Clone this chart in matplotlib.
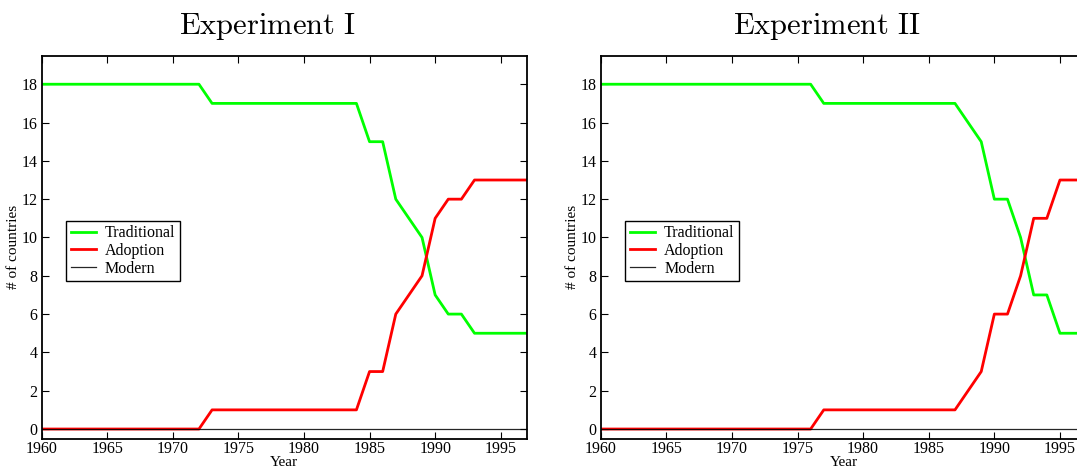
import matplotlib
matplotlib.use("Agg")
import matplotlib.pyplot as plt

years = list(range(1960, 1998))

# Experiment I
trad_1 = [18]*13 + [17]*12 + [15, 15, 12, 11, 10, 7, 6, 6] + [5]*5
adop_1 = [0]*13 + [1]*12 + [3, 3, 6, 7, 8, 11, 12, 12] + [13]*5
mod_1 = [0]*38

# Experiment II
trad_2 = [18]*17 + [17]*11 + [16, 15, 12, 12, 10, 7, 7] + [5]*3
adop_2 = [0]*17 + [1]*11 + [2, 3, 6, 6, 8, 11, 11] + [13]*3
mod_2 = [0]*38

titles = ["Experiment I", "Experiment II"]
series_names = ["Traditional", "Adoption", "Modern"]
xticks = list(range(1960, 2000, 5))
yticks = list(range(0, 20, 2))

plt.rcParams['font.family'] = ['Liberation Serif', 'DejaVu Serif']
plt.rcParams['mathtext.fontset'] = 'cm'

fig = plt.figure(figsize=(10.77, 4.70), dpi=100)
W, H = 1077.0, 470.0
ax_w = 485.5 / W
ax_b = (H - 438.6) / H
ax_h = (438.6 - 55.5) / H
lefts = [41.5 / W, 600.7 / W]

data = [(trad_1, adop_1, mod_1), (trad_2, adop_2, mod_2)]

for i in range(2):
    ax = fig.add_axes([lefts[i], ax_b, ax_w, ax_h])
    t, a, m = data[i]
    ax.plot(years, t, color=(0, 1, 0), lw=2.0, label=series_names[0])
    ax.plot(years, a, color=(1, 0, 0), lw=2.0, label=series_names[1])
    ax.plot(years, m, color='black', lw=0.9, alpha=0.85, label=series_names[2])
    ax.set_xlim(1960, 1997)
    ax.set_ylim(-0.5, 19.5)
    ax.set_xticks(xticks)
    ax.set_yticks(yticks)
    ax.tick_params(direction='in', length=5, width=0.8, top=True, right=True,
                   labelsize=11.5, colors='black')
    ax.tick_params(axis='y', pad=3)
    ax.tick_params(axis='x', pad=2)
    for sp in ax.spines.values():
        sp.set_linewidth(1.3)
    ax.set_xlabel("Year", fontsize=11, labelpad=-1)
    ax.set_ylabel("# of countries", fontsize=11, labelpad=1)
    leg = ax.legend(loc='upper left', bbox_to_anchor=(0.05, 0.569),
                    borderaxespad=0, fancybox=False, framealpha=1,
                    edgecolor='black', fontsize=11.5, borderpad=0.3,
                    handlelength=1.6, handletextpad=0.55, labelspacing=0.1)
    leg.get_frame().set_linewidth(1.0)
    xc = lefts[i] + 0.465 * ax_w
    fig.text(xc, (H - 34) / H, r"$\mathrm{" + titles[i].replace(" ", r"\ ") + "}$",
             fontsize=22, ha='center', va='baseline')

fig.savefig("out.png", dpi=100)
